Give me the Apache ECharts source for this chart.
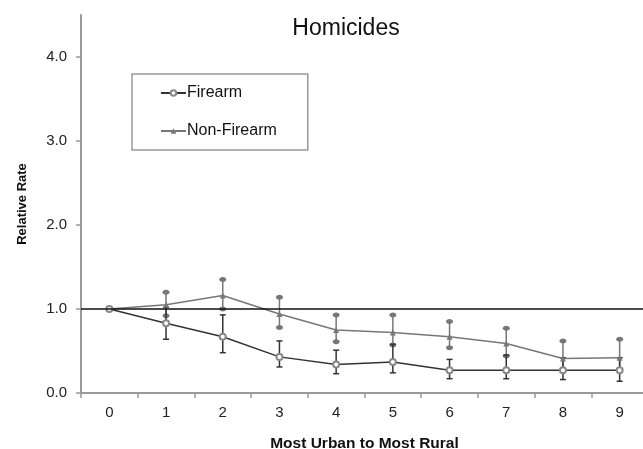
<!DOCTYPE html>
<html>
<head>
<meta charset="utf-8">
<script src="https://cdn.jsdelivr.net/npm/echarts@6/dist/echarts.min.js"></script>
<style>
  html, body { margin: 0; padding: 0; background: #fff; }
  #chart { width: 643px; height: 449px; }
</style>
</head>
<body>
<div id="chart"></div>
<script>
// rural-urban continuum categories
var categories = ['0', '1', '2', '3', '4', '5', '6', '7', '8', '9'];

// firearm homicides: relative rate and 95% CI
var firearm     = [1.0, 0.83, 0.67, 0.43, 0.34, 0.37, 0.27, 0.27, 0.27, 0.27];
var firearmLow  = [1.0, 0.64, 0.48, 0.31, 0.23, 0.24, 0.17, 0.17, 0.16, 0.14];
var firearmHigh = [1.0, 1.02, 0.93, 0.62, 0.51, 0.58, 0.40, 0.45, 0.42, 0.42];

// non-firearm homicides
var nonFirearm     = [1.0, 1.05, 1.16, 0.94, 0.75, 0.72, 0.67, 0.59, 0.41, 0.42];
var nonFirearmLow  = [1.0, 0.92, 1.00, 0.78, 0.61, 0.57, 0.54, 0.44, 0.28, 0.28];
var nonFirearmHigh = [1.0, 1.20, 1.35, 1.14, 0.93, 0.93, 0.85, 0.77, 0.62, 0.64];

var yTicks = [0, 1, 2, 3, 4];

var font = '"Liberation Sans", Arial, sans-serif';

function errData(low, high) {
  return categories.map(function (c, i) { return [i, low[i], high[i]]; });
}

// error bars drawn from the axis scales
function errorBars(color, capType) {
  return function (params, api) {
    var x = api.value(0);
    var lo = api.coord([x, api.value(1)]);
    var hi = api.coord([x, api.value(2)]);
    if (Math.abs(lo[1] - hi[1]) < 1) return;
    var children = [{
      type: 'line',
      shape: { x1: lo[0], y1: lo[1], x2: hi[0], y2: hi[1] },
      style: { stroke: color, lineWidth: 1.5 }
    }];
    [lo, hi].forEach(function (p) {
      if (capType === 'dot') {
        children.push({
          type: 'ellipse',
          shape: { cx: p[0], cy: p[1], rx: 3.5, ry: 2.5 },
          style: { fill: color }
        });
      } else {
        children.push({
          type: 'line',
          shape: { x1: p[0] - 3, y1: p[1], x2: p[0] + 3, y2: p[1] },
          style: { stroke: color, lineWidth: 1.5 }
        });
      }
    });
    return { type: 'group', children: children };
  };
}

var chart = echarts.init(document.getElementById('chart'));

chart.setOption({
  animation: false,
  textStyle: { fontFamily: font },
  title: {
    text: 'Homicides',
    left: 341,
    top: 12,
    textAlign: 'center',
    textStyle: { fontFamily: font, fontSize: 23, fontWeight: 'normal', color: '#111' }
  },
  legend: {
    orient: 'vertical',
    left: 132,
    top: 74,
    padding: [11, 31, 11, 28],
    itemGap: 22,
    itemWidth: 25,
    itemHeight: 7,
    borderColor: '#999',
    borderWidth: 1.5,
    textStyle: { fontFamily: font, fontSize: 16, color: '#111', padding: [0, 0, 0, -4] },
    data: ['Firearm', 'Non-Firearm']
  },
  grid: { left: 81, top: 15, width: 567, height: 378, outerBoundsMode: 'none', containLabel: false },
  xAxis: {
    type: 'category',
    data: categories,
    boundaryGap: true,
    name: 'Most Urban to Most Rural',
    nameLocation: 'middle',
    nameGap: 43,
    nameTextStyle: { fontFamily: font, fontSize: 15.5, fontWeight: 'bold', color: '#111' },
    axisLine: { lineStyle: { color: '#999', width: 2 } },
    axisTick: { show: true, length: 5, lineStyle: { color: '#999', width: 1.5 } },
    axisLabel: { fontFamily: font, fontSize: 15, color: '#222', margin: 12 }
  },
  yAxis: {
    type: 'value',
    min: 0,
    max: 4.5,
    interval: 1,
    name: 'Relative Rate',
    nameLocation: 'middle',
    nameRotate: 90,
    nameGap: 52,
    nameTextStyle: { fontFamily: font, fontSize: 13, fontWeight: 'bold', color: '#111' },
    axisLine: { show: true, lineStyle: { color: '#999', width: 2 } },
    axisTick: { show: true, length: 5, lineStyle: { color: '#999', width: 1.5 } },
    axisLabel: {
      fontFamily: font, fontSize: 15, color: '#222', margin: 14,
      showMaxLabel: false,
      formatter: function (v) { return yTicks.indexOf(v) >= 0 ? v.toFixed(1) : ''; }
    },
    splitLine: { show: false }
  },
  series: [
    {
      name: 'Non-Firearm',
      type: 'line',
      data: nonFirearm,
      symbol: 'triangle',
      symbolSize: 6,
      itemStyle: { color: '#777' },
      lineStyle: { color: '#777', width: 1.5 },
      z: 3
    },
    {
      name: 'Firearm',
      type: 'line',
      data: firearm,
      symbol: 'emptyCircle',
      symbolSize: 6,
      itemStyle: { color: '#888', borderWidth: 0.8 },
      lineStyle: { color: '#333', width: 1.5 },
      z: 4,
      markLine: {
        silent: true,
        symbol: 'none',
        label: { show: false },
        lineStyle: { color: '#111', width: 1.5, type: 'solid' },
        data: [{ yAxis: 1 }]
      }
    },
    {
      type: 'custom',
      data: errData(nonFirearmLow, nonFirearmHigh),
      renderItem: errorBars('#777', 'dot'),
      z: 2
    },
    {
      type: 'custom',
      data: errData(firearmLow, firearmHigh),
      renderItem: errorBars('#333', 'bar'),
      z: 2
    }
  ]
});
</script>
</body>
</html>
